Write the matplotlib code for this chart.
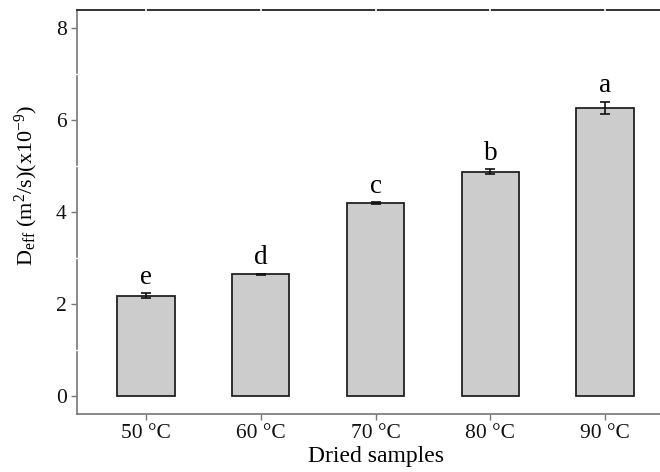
import matplotlib
matplotlib.use("Agg")
import matplotlib.pyplot as plt
import numpy as np

plt.rcParams['font.family'] = ['Liberation Serif', 'DejaVu Serif']
plt.rcParams['mathtext.fontset'] = 'custom'
plt.rcParams['mathtext.rm'] = 'Liberation Serif'
plt.rcParams['mathtext.it'] = 'Liberation Serif:italic'

# data
samples = ["50 °C", "60 °C", "70 °C", "80 °C", "90 °C"]
deff = [2.18, 2.65, 4.19, 4.88, 6.27]
err = [0.05, 0.01, 0.02, 0.05, 0.13]
letters = ["e", "d", "c", "b", "a"]

fig = plt.figure(figsize=(6.6, 4.72), dpi=100)
# axes runs slightly past the right edge (image is cropped there)
ax = fig.add_axes([77/660, 58/472, 597/660, 404/472])

x = np.arange(len(samples))
ax.bar(x, deff, width=0.5, color="#cccccc", edgecolor="#222222", linewidth=1.3, zorder=4)
ax.errorbar(x, deff, yerr=err, fmt="none", ecolor="#111111", elinewidth=1.2,
            capsize=3.6, capthick=1.2, zorder=5)
for xi, v, e, lab in zip(x, deff, err, letters):
    ax.text(xi, v + e + 0.2, lab, ha="center", va="baseline", fontsize=19.5, zorder=6)

ax.set_xlim(-0.6, 4.6)
ax.set_ylim(-0.39, 8.39)
ax.set_yticks([0, 2, 4, 6, 8])
ax.set_xticks(x)
ax.set_xticklabels(samples)

# white grid lines only show where they cut the frame
ax.vlines(x, 0.5, 1.006, transform=ax.get_xaxis_transform(), colors="white",
          linewidth=1.2, clip_on=False, zorder=3)
ax.hlines([1, 3, 5, 7], -0.004, 0.5, transform=ax.get_yaxis_transform(), colors="white",
          linewidth=1.0, clip_on=False, zorder=3)

for s in ["left", "bottom"]:
    ax.spines[s].set_color("#777777")
    ax.spines[s].set_linewidth(1.2)
ax.spines["top"].set_color("#222222")
ax.spines["top"].set_linewidth(1.3)
ax.spines["right"].set_visible(False)

ax.tick_params(axis="both", which="major", length=4, width=1.0, color="#777777",
               labelsize=15.5, labelcolor="#111111")

ax.set_xlabel("Dried samples", fontsize=17, labelpad=2)
ax.set_ylabel(r"$\mathrm{D_{eff}\ (m^{2}/s)(x10^{-9})}$", fontsize=16)
ax.yaxis.set_label_coords(-0.062, 0.567)

plt.savefig("out.png", dpi=100)
